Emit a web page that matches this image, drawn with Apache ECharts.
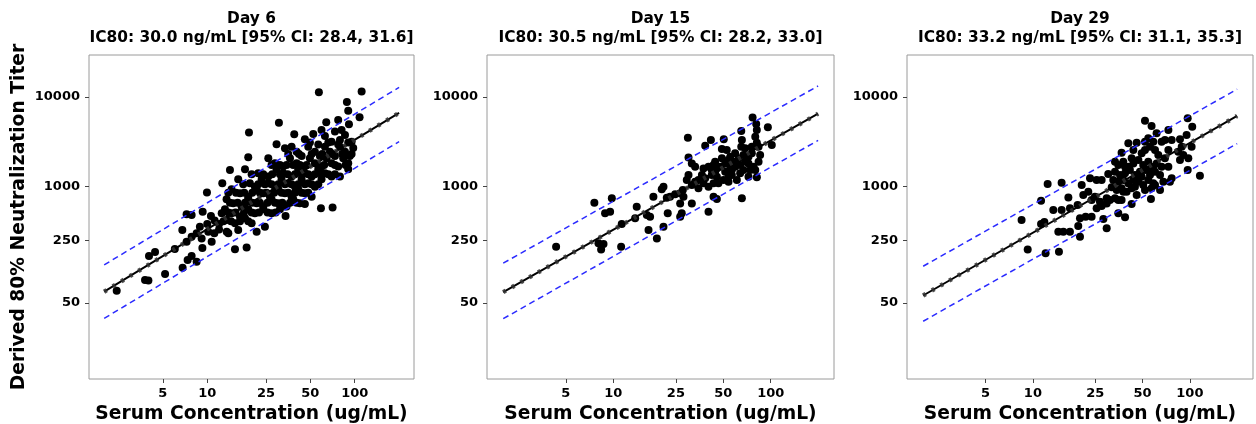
<!DOCTYPE html>
<html><head><meta charset="utf-8">
<script src="https://cdn.jsdelivr.net/npm/echarts@6/dist/echarts.min.js"></script>
<style>html,body{margin:0;padding:0;background:#fff}#c{width:1256px;height:424px}</style>
</head><body><div id="c"></div>
<script>
// ---- data ----
const panelTitles = ['Day 6', 'Day 15', 'Day 29'];
const ic80Labels = [
  'IC80: 30.0 ng/mL [95% CI: 28.4, 31.6]',
  'IC80: 30.5 ng/mL [95% CI: 28.2, 33.0]',
  'IC80: 33.2 ng/mL [95% CI: 31.1, 35.3]'
];
const xAxisTitle = 'Serum Concentration (ug/mL)';
const yAxisTitle = 'Derived 80% Neutralization Titer';
const xTickLabels = [5, 10, 25, 50, 100];
const yTickLabels = [50, 250, 1000, 10000];
const xRange = [1.578, 252.4];   // ug/mL
const yRange = [7.06, 29440];    // titer

// fitted line and prediction band (ug/mL -> titer)
const fitConc = [2, 200];
const day6Fit = [66.7, 6650],  day6Upper = [133, 12800], day6Lower = [33.6, 3170];
const day15Fit = [66.0, 6500], day15Upper = [139, 13270], day15Lower = [33.3, 3270];
const day29Fit = [60.5, 6140], day29Upper = [128.5, 12200], day29Lower = [31.2, 3010];

// observed samples as [log10 concentration (ug/mL), log10 titer]
const day6LogPoints = [
[1.757,4.052],[2.047,4.060],[1.947,3.944],[1.956,3.847],[2.033,3.773],[1.486,3.713],[1.807,3.717],[1.888,3.743],[1.961,3.695],[1.283,3.602],
[1.590,3.583],[1.719,3.587],[1.470,3.471],[1.527,3.426],[1.278,3.326],[1.154,3.184],[1.662,2.805],[1.771,2.756],[1.850,2.764],
[1.531,2.670],[1.436,2.700],[1.391,2.551],[1.335,2.495],[1.210,2.514],[1.143,2.477],[1.188,2.298],[1.267,2.317],
[1.775,3.631],[1.866,3.613],[1.911,3.631],[1.662,3.527],[1.798,3.564],[1.900,3.520],[1.979,3.501],[1.843,3.501],[1.934,3.575],
[1.572,3.445],[1.606,3.389],[1.640,3.341],[1.685,3.445],[1.730,3.389],[1.764,3.341],[1.798,3.445],[1.832,3.389],[1.866,3.341],[1.900,3.445],[1.934,3.389],[1.967,3.341],[1.990,3.430],
[1.414,3.315],[1.459,3.259],[1.515,3.222],[1.561,3.315],[1.606,3.259],[1.651,3.222],[1.696,3.315],[1.730,3.259],[1.775,3.222],[1.809,3.315],[1.843,3.259],[1.888,3.222],[1.922,3.315],[1.956,3.259],
[1.256,3.192],[1.346,3.147],[1.414,3.110],[1.470,3.192],[1.515,3.147],[1.572,3.110],[1.617,3.192],[1.662,3.147],[1.708,3.110],[1.753,3.192],[1.798,3.147],[1.843,3.110],[1.900,3.110],[1.956,3.192],
[1.210,3.080],[1.289,3.035],[1.323,2.998],[1.369,3.080],[1.414,3.035],[1.459,2.998],[1.504,3.080],[1.549,3.035],[1.595,2.998],[1.640,3.080],[1.685,3.035],[1.730,2.998],[1.775,3.080],
[1.165,2.968],[1.222,2.924],[1.278,2.886],[1.335,2.968],[1.380,2.924],[1.425,2.886],[1.482,2.968],[1.527,2.924],[1.572,2.886],[1.617,2.968],[1.662,2.924],[1.708,2.886],
[1.131,2.857],[1.176,2.812],[1.233,2.775],[1.278,2.857],[1.335,2.812],[1.380,2.775],[1.436,2.857],[1.482,2.812],[1.538,2.775],[1.583,2.857],[1.628,2.812],
[1.120,2.745],[1.165,2.700],[1.222,2.663],[1.278,2.745],[1.323,2.700],[1.380,2.745],[1.493,2.745],
[1.131,2.626],[1.188,2.589],[1.256,2.644],[1.301,2.589],
[1.696,3.490],[1.753,3.470],[1.821,3.490],[1.888,3.470],[1.956,3.490],
[1.549,3.363],[1.622,3.363],[1.708,3.363],[1.780,3.363],[1.848,3.363],[1.915,3.363],[1.979,3.363],
[1.436,3.240],[1.493,3.240],[1.538,3.240],[1.583,3.240],[1.628,3.240],[1.674,3.240],[1.753,3.240],[1.793,3.240],[1.866,3.240],[1.938,3.240],
[1.301,3.136],[1.380,3.136],[1.441,3.136],[1.493,3.136],[1.545,3.136],[1.595,3.136],[1.640,3.136],[1.685,3.136],[1.730,3.136],[1.775,3.136],[1.821,3.136],[1.866,3.136],
[1.244,3.024],[1.346,3.024],[1.391,3.024],[1.436,3.024],[1.482,3.024],[1.527,3.024],[1.572,3.024],[1.617,3.024],[1.662,3.024],[1.708,3.024],[1.753,3.024],
[1.143,2.930],[1.195,2.930],[1.251,2.930],[1.305,2.930],[1.357,2.930],[1.402,2.930],[1.454,2.930],[1.504,2.930],[1.549,2.930],[1.595,2.930],[1.640,2.930],[1.685,2.930],
[1.154,2.819],[1.206,2.819],[1.256,2.819],[1.305,2.819],[1.357,2.819],[1.409,2.819],[1.459,2.819],[1.509,2.819],[1.561,2.819],[1.606,2.819],
[1.143,2.708],[1.192,2.708],[1.249,2.708],[1.301,2.708],[1.351,2.708],[1.409,2.708],[1.464,2.708],
[1.161,2.610],[1.222,2.610],[1.278,2.610],
[0.386,1.836],[0.578,1.955],[0.601,1.948],[0.714,2.022],[0.605,2.223],[0.646,2.268],[0.833,2.093],[0.867,2.178],[0.894,2.223],[0.928,2.160],
[0.831,2.514],[0.860,2.383],[0.894,2.439],[0.928,2.476],[0.962,2.420],[0.967,2.312],[1.007,2.495],[1.030,2.383],[1.048,2.476],[0.860,2.689],
[0.894,2.681],[0.969,2.718],[1.025,2.670],[0.998,2.934],[1.102,3.035],[1.080,2.581],[1.132,2.495],[1.098,2.700],
[0.780,2.300],[0.950,2.550],[1.000,2.580],[1.050,2.620],[1.080,2.520],[1.110,2.610]
];
const day15LogPoints = [
[1.885,3.772],[1.908,3.698],[1.912,3.631],[1.982,3.661],[1.474,3.545],[1.620,3.519],[1.702,3.527],[1.584,3.456],[1.813,3.620],[1.817,3.519],
[1.813,3.445],[1.690,3.419],[1.721,3.407],[1.912,3.489],[1.923,3.445],[2.007,3.463],[1.880,3.370],[1.933,3.351],[1.774,3.370],[1.743,3.333],
[1.796,3.314],[1.827,3.351],[1.478,3.325],[1.499,3.258],[1.520,3.221],[1.605,3.221],[1.637,3.240],[1.658,3.202],[1.679,3.221],[1.711,3.258],
[1.732,3.296],[1.753,3.184],[1.774,3.221],[1.806,3.240],[1.827,3.184],[1.859,3.258],[1.891,3.221],[1.923,3.277],[1.902,3.184],[1.563,3.128],
[1.584,3.091],[1.626,3.128],[1.658,3.109],[1.700,3.072],[1.732,3.109],[1.753,3.128],[1.785,3.072],[1.806,3.147],[1.637,3.035],[1.605,2.998],
[1.573,3.035],[1.541,2.979],[1.520,3.054],[1.499,3.016],[1.478,3.128],[1.467,3.072],[1.442,2.960],[1.425,2.923],[1.393,2.912],[1.361,2.886],
[1.446,2.886],[1.499,2.811],[1.425,2.811],[1.435,2.700],[1.425,2.662],[1.319,2.998],[1.308,2.968],[1.340,2.875],[1.346,2.700],[1.255,2.886],
[1.319,2.551],[1.277,2.420],[1.224,2.513],[1.234,2.662],[1.213,2.681],[1.149,2.774],[1.139,2.644],[1.054,2.581],[1.050,2.327],[0.991,2.867],
[0.980,2.718],[0.948,2.700],[0.880,2.819],[0.906,2.365],[0.923,2.297],[0.938,2.357],[0.637,2.327],[1.605,2.718],[1.637,2.886],[1.658,2.860],
[1.817,2.867],[1.912,3.102],[1.902,3.556],[1.838,3.426],[1.859,3.333],
[1.647,3.165],[1.711,3.165],[1.743,3.221],[1.838,3.277],[1.870,3.184],[1.626,3.184],[1.573,3.202],[1.541,3.072],[1.668,3.035],[1.732,3.054],
[1.859,3.109],[1.880,3.445],[1.764,3.277],[1.690,3.314],[1.647,3.277]
];
const day29LogPoints = [
[1.714,3.735],[1.756,3.675],[1.986,3.761],[2.015,3.668],[1.863,3.631],[1.788,3.594],[1.979,3.575],[1.937,3.527],[1.608,3.482],[1.661,3.489],
[1.714,3.500],[1.735,3.538],[1.767,3.500],[1.820,3.500],[1.841,3.519],[1.565,3.378],[1.640,3.407],[1.693,3.370],[1.746,3.445],[1.799,3.351],
[1.948,3.445],[2.011,3.445],[1.926,3.389],[1.937,3.296],[1.990,3.314],[1.958,3.351],[1.544,3.240],[1.576,3.277],[1.608,3.221],[1.640,3.258],
[1.672,3.296],[1.703,3.240],[1.735,3.277],[1.767,3.221],[1.788,3.258],[1.820,3.221],[1.523,3.165],[1.555,3.128],[1.587,3.147],[1.618,3.184],
[1.650,3.128],[1.682,3.165],[1.714,3.184],[1.746,3.128],[1.778,3.165],[1.810,3.128],[1.480,3.139],[1.438,3.072],[1.406,3.072],[1.364,3.091],
[1.183,3.042],[1.094,3.027],[1.512,3.072],[1.544,3.054],[1.576,3.072],[1.608,3.035],[1.640,3.072],[1.672,3.054],[1.703,3.016],[1.735,3.072],
[1.767,3.035],[1.502,2.990],[1.534,2.960],[1.565,2.979],[1.597,2.942],[1.629,2.979],[1.661,2.905],[1.714,2.960],[1.756,2.979],[1.778,3.016],
[1.884,3.091],[1.873,3.054],[1.986,3.184],[2.064,3.121],[1.311,3.016],[1.353,2.942],[1.395,2.886],[1.427,2.830],[1.470,2.867],[1.523,2.867],
[1.491,2.849],[1.544,2.849],[1.321,2.905],[1.374,2.849],[1.226,2.878],[1.052,2.841],[1.130,2.737],[1.183,2.737],[1.236,2.756],[1.285,2.793],
[1.300,2.644],[1.336,2.662],[1.374,2.662],[1.406,2.756],[1.438,2.782],[1.470,2.811],[1.470,2.532],[1.449,2.636],[1.544,2.700],[1.587,2.655],
[1.629,2.804],[1.565,2.849],[1.752,2.860],[1.810,2.960],[0.928,2.625],[1.052,2.581],[1.073,2.603],[1.162,2.495],[1.194,2.495],[1.236,2.495],
[1.289,2.558],[1.300,2.439],[0.967,2.297],[1.081,2.253],[1.166,2.271],
[1.629,3.314],[1.714,3.407],[1.778,3.407],[1.863,3.407],[1.863,3.221],[1.693,3.109],[1.650,2.998],[1.587,3.221],[1.523,3.277],[1.841,3.314],
[1.884,3.519],[1.576,2.942],[1.735,3.184],[1.831,3.054]
];

// ---- layout (pixels) ----
const grids = [
  {left: 89, top: 55, width: 325, height: 324},
  {left: 487, top: 55, width: 347, height: 324},
  {left: 907, top: 55, width: 346, height: 324}
];
const pointSets = [day6LogPoints, day15LogPoints, day29LogPoints];
const fits = [day6Fit, day15Fit, day29Fit];
const uppers = [day6Upper, day15Upper, day29Upper];
const lowers = [day6Lower, day15Lower, day29Lower];

const L = Math.log10;
const font = 'DejaVu Sans';
const pair = (xs, ys) => xs.map((x, i) => [L(x), L(ys[i])]);
const fmt = v => String(Math.round(Math.pow(10, v)));

const option = {
  animation: false,
  backgroundColor: '#fff',
  title: grids.map((g, i) => ({
    text: panelTitles[i] + '\n' + ic80Labels[i],
    left: g.left + g.width / 2, top: 10, padding: 0,
    textAlign: 'center',
    textStyle: {fontFamily: font, fontWeight: 'bold', fontSize: 15.4, lineHeight: 18.5, color: '#000'}
  })),
  grid: grids.map(g => Object.assign({show: true, borderColor: '#9a9a9a', borderWidth: 1, backgroundColor: 'transparent', containLabel: false, outerBoundsMode: 'none'}, g)),
  xAxis: grids.map((g, i) => ({
    type: 'value', gridIndex: i, min: L(xRange[0]), max: L(xRange[1]),
    name: xAxisTitle, nameLocation: 'middle', nameGap: 22,
    nameTextStyle: {fontFamily: font, fontWeight: 'bold', fontSize: 18.7, color: '#000'},
    axisLine: {show: false, onZero: false},
    splitLine: {show: false},
    axisTick: {show: true, length: 4, lineStyle: {color: '#444'}, customValues: xTickLabels.map(L)},
    axisLabel: {customValues: xTickLabels.map(L), formatter: fmt, fontFamily: font, fontWeight: 'bold', fontSize: 13, color: '#000', margin: 8}
  })),
  yAxis: grids.map((g, i) => ({
    type: 'value', gridIndex: i, min: L(yRange[0]), max: L(yRange[1]),
    name: i === 0 ? yAxisTitle : '', nameLocation: 'middle', nameGap: 60, nameRotate: 90,
    nameTextStyle: {fontFamily: font, fontWeight: 'bold', fontSize: 18.7, color: '#000'},
    axisLine: {show: false, onZero: false},
    splitLine: {show: false},
    axisTick: {show: true, length: 4, lineStyle: {color: '#444'}, customValues: yTickLabels.map(L)},
    axisLabel: {customValues: yTickLabels.map(L), formatter: fmt, fontFamily: font, fontWeight: 'bold', fontSize: 13, color: '#000', margin: 9}
  })),
  series: []
};

grids.forEach((g, i) => {
  option.series.push({
    type: 'scatter', xAxisIndex: i, yAxisIndex: i, data: pointSets[i],
    symbol: 'circle', symbolSize: 8, itemStyle: {color: '#000', opacity: 1}, z: 2, silent: true
  });
  option.series.push({
    type: 'line', xAxisIndex: i, yAxisIndex: i, data: pair(fitConc, fits[i]),
    showSymbol: false, lineStyle: {color: '#000', width: 2}, z: 3, silent: true
  });
  option.series.push({
    type: 'line', xAxisIndex: i, yAxisIndex: i, data: pair(fitConc, fits[i]),
    showSymbol: false, lineStyle: {color: 'rgba(50,50,50,0.85)', width: 4.5, type: [3, 7]}, z: 4, silent: true
  });
  [uppers[i], lowers[i]].forEach(b => option.series.push({
    type: 'line', xAxisIndex: i, yAxisIndex: i, data: pair(fitConc, b),
    showSymbol: false, lineStyle: {color: '#2b2bff', width: 1.5, type: [6, 4]}, z: 5, silent: true
  }));
});

const chart = echarts.init(document.getElementById('c'), null, {renderer: 'canvas'});
chart.setOption(option);
</script>
</body></html>
